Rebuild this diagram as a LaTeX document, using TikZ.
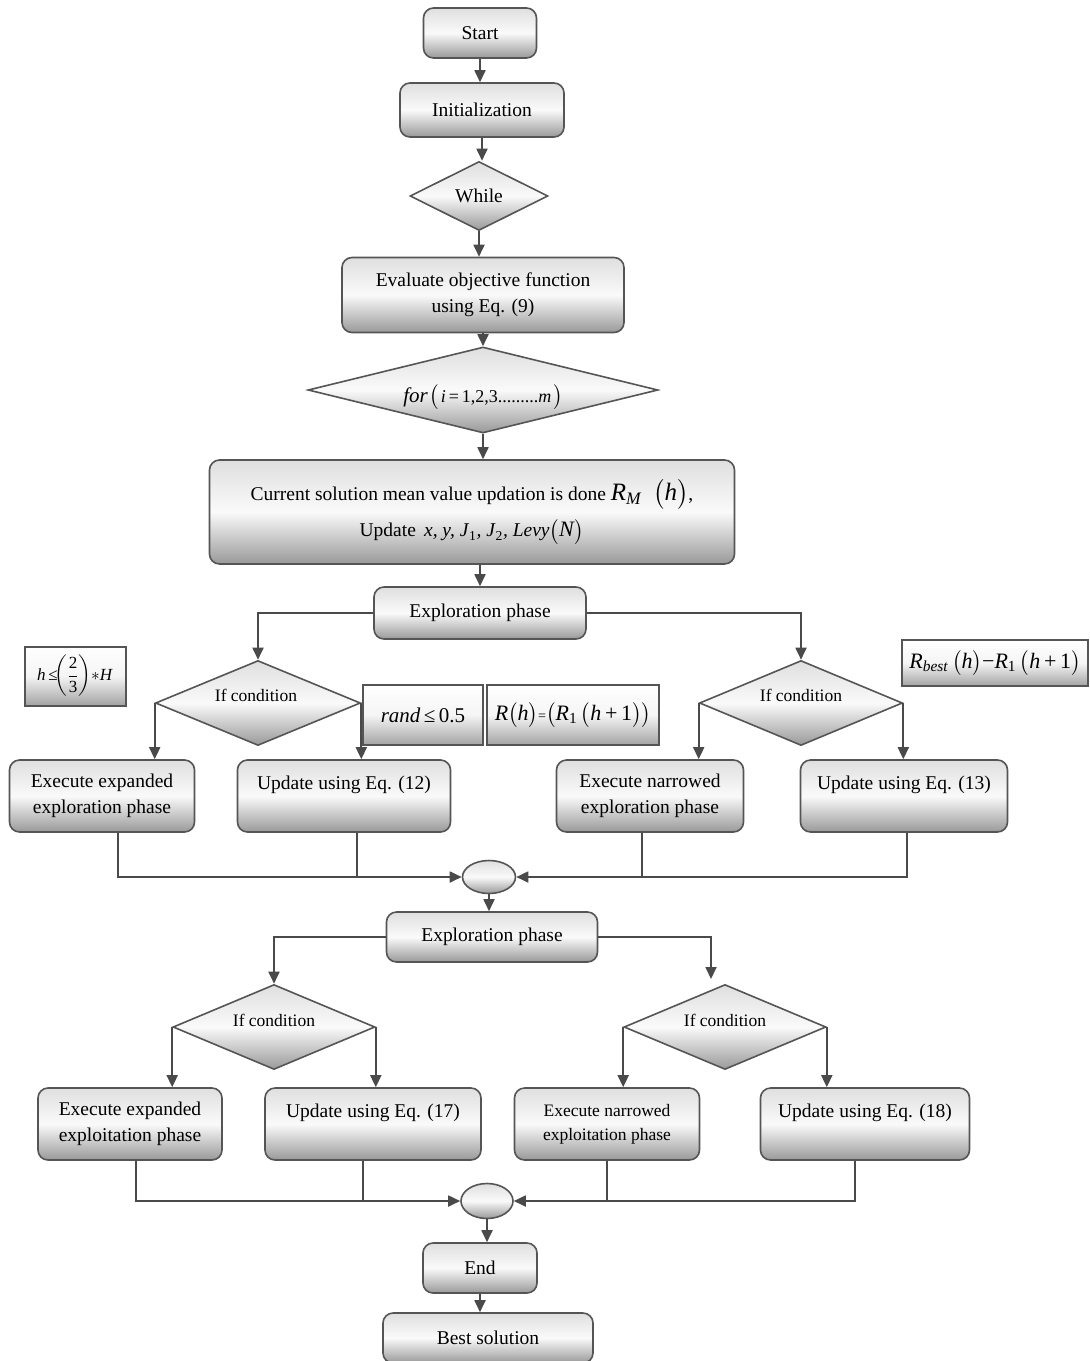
\documentclass[tikz,border=0pt]{standalone}
\usepackage{amsmath}
\usepackage{fontspec}
\setmainfont{Liberation Serif}
\usetikzlibrary{shapes.geometric,arrows.meta,calc}
\definecolor{bd}{HTML}{555555}
\definecolor{lnc}{HTML}{4A4A4A}
\tikzset{
 gshade/.style={top color=gray!25, bottom color=gray!80, middle color=gray!4},
 pbox/.style={draw=bd, line width=1.6pt, rounded corners=10pt, gshade, align=center, inner sep=2pt, font=\fontsize{19.5}{26}\selectfont},
 fbox/.style={draw=bd, line width=2pt, top color=white, bottom color=gray!72, middle color=gray!8, inner sep=2pt, align=center},
 dia/.style={diamond, draw=bd, line width=1.6pt, gshade, inner sep=0pt, aspect=2},
 merge/.style={ellipse, draw=bd, line width=1.6pt, gshade, inner sep=0pt},
 wh/.style n args={2}{minimum width=#1pt, minimum height=#2pt},
 conn/.style={draw=lnc, line width=1.8pt},
 arr/.style={conn, -{Triangle[length=12pt,width=11pt]}},
 dtext/.style={font=\fontsize{17.5}{19}\selectfont, inner sep=0pt},
}
\begin{document}
\begin{tikzpicture}[x=1pt,y=-1pt]
\useasboundingbox (0,0) rectangle (1090,1361);
\clip (0,0) rectangle (1090,1361);
% main column
\node[pbox, wh={113}{50}] (start) at (480,33) {Start};
\node[pbox, wh={164}{54}] (init) at (482,110) {Initialization};
\node[dia, wh={138}{69}, font=\fontsize{19.5}{21}\selectfont] (while) at (479,196) {While};
\node[pbox, wh={282}{75}] (eval) at (483,295) {Evaluate objective function\\using Eq. (9)};
\node[dia, wh={350}{86}] (for) at (483,390) {};
\node[inner sep=0pt] (fort) at (483,397) {{\fontsize{21}{22}\selectfont\textit{for}}\,{\fontsize{22}{22}\selectfont$\bigl($}\,{\fontsize{18}{18}\selectfont\textit{i}\,=\,1,2,3.........\textit{m}}\,{\fontsize{22}{22}\selectfont$\bigr)$}};
\node[pbox, wh={525}{104}, font=\fontsize{19.5}{36}\selectfont] (cur) at (472,512) {Current solution mean value updation is done\ {\fontsize{25}{25}\selectfont\textit{R}\textsubscript{\textit{M}}\;\,$\bigl($\textit{h}$\bigr)$},\\Update \,\textit{x, y, J}\textsubscript{1}\textit{, J}\textsubscript{2}\textit{, Levy}{\fontsize{22}{22}\selectfont$\bigl($\textit{N}$\bigr)$}};
\node[pbox, wh={212}{52}] (ex1) at (480,613) {Exploration phase};
% first decision level
\node[fbox, wh={101}{59}] (hb) at (75,676) {\fontsize{17}{18}\selectfont\textit{h}\,≤$\!\left(\dfrac{\text{2}}{\text{3}}\right)\!\ast$\textit{H}};
\node[dia, wh={205}{85}] (ifL) at (258,703) {};
\node[dtext] (ifLt) at (256,695) {If condition};
\node[fbox, wh={120}{60}] (rnd) at (423,715) {\fontsize{21}{22}\selectfont\textit{rand}\,≤\,0.5};
\node[fbox, wh={172}{60}] (rh) at (573,715) {\fontsize{22}{22}\selectfont\textit{R}$\bigl($\textit{h}$\bigr)${\fontsize{14}{14}\selectfont=}$\bigl($\textit{R}\textsubscript{1}\,$\bigl($\textit{h}\,+\,1$\bigr)\bigr)$};
\node[dia, wh={203}{85}] (ifR) at (801,703) {};
\node[dtext] (ifRt) at (801,695) {If condition};
\node[fbox, wh={186}{46}] (rb) at (995,663) {\fontsize{22}{24}\selectfont\textit{R}\textsubscript{\textit{best}}\,$\bigl($\textit{h}$\bigr)$−\textit{R}\textsubscript{1}\,$\bigl($\textit{h}\,+\,1$\bigr)$};
\node[pbox, wh={185}{72}] (e1) at (102,796) {Execute expanded\\exploration phase};
\node[pbox, wh={213}{72}] (u12) at (344,796) {Update using Eq. (12)\\\mbox{}};
\node[pbox, wh={187}{72}] (e2) at (650,796) {Execute narrowed\\exploration phase};
\node[pbox, wh={207}{72}] (u13) at (904,796) {Update using Eq. (13)\\\mbox{}};
\node[merge, wh={53}{33}] (m1) at (489,877) {};
% second phase
\node[pbox, wh={211}{50}] (ex2) at (492,937) {Exploration phase};
\node[dia, wh={202}{85}] (ifL2) at (274,1027) {};
\node[dtext] (ifL2t) at (274,1020) {If condition};
\node[dia, wh={202}{85}] (ifR2) at (725,1027) {};
\node[dtext] (ifR2t) at (725,1020) {If condition};
\coordinate (t2) at (711,979);
\node[pbox, wh={184}{72}] (e3) at (130,1124) {Execute expanded\\exploitation phase};
\node[pbox, wh={216}{72}] (u17) at (373,1124) {Update using Eq. (17)\\\mbox{}};
\node[pbox, wh={185}{72}, font=\fontsize{17.5}{24}\selectfont] (e4) at (607,1124) {Execute narrowed\\exploitation phase};
\node[pbox, wh={209}{72}] (u18) at (865,1124) {Update using Eq. (18)\\\mbox{}};
\node[merge, wh={52}{35}] (m2) at (487,1201) {};
\node[pbox, wh={114}{50}] (end) at (480,1268) {End};
\node[pbox, wh={210}{50}] (best) at (488,1338) {Best solution};
% connectors
\draw[arr] (start.south) -- (start.south |- init.north);
\draw[arr] (init.south) -- (init.south |- while.north);
\draw[arr] (while.south) -- (while.south |- eval.north);
\draw[arr] (eval.south) -- (eval.south |- for.north);
\draw[arr] (for.south) -- (for.south |- cur.north);
\draw[arr] (ex1.north |- cur.south) -- (ex1.north);
\draw[arr] (ex1.west) -| (ifL.north);
\draw[arr] (ex1.east) -| (ifR.north);
\draw[arr] (ifL.west) -- (ifL.west |- e1.north);
\draw[arr] (ifL.east) -- (ifL.east |- u12.north);
\draw[arr] (ifR.west) -- (ifR.west |- e2.north);
\draw[arr] (ifR.east) -- (ifR.east |- u13.north);
\draw[arr] (118,0 |- e1.south) |- (m1.west);
\draw[conn] (357,0 |- u12.south) -- (357,0 |- m1.west);
\draw[conn] (642,0 |- e2.south) -- (642,0 |- m1.east);
\draw[arr] (907,0 |- u13.south) |- (m1.east);
\draw[arr] (m1.south) -- (m1.south |- ex2.north);
\draw[arr] (ex2.west) -| (ifL2.north);
\draw[arr] (ex2.east) -| (t2);
\draw[arr] (ifL2.west) -- (ifL2.west |- e3.north);
\draw[arr] (ifL2.east) -- (ifL2.east |- u17.north);
\draw[arr] (ifR2.west) -- (ifR2.west |- e4.north);
\draw[arr] (ifR2.east) -- (ifR2.east |- u18.north);
\draw[arr] (136,0 |- e3.south) |- (m2.west);
\draw[conn] (363,0 |- u17.south) -- (363,0 |- m2.west);
\draw[conn] (607,0 |- e4.south) -- (607,0 |- m2.east);
\draw[arr] (855,0 |- u18.south) |- (m2.east);
\draw[arr] (m2.south) -- (m2.south |- end.north);
\draw[arr] (end.south) -- (end.south |- best.north);
\end{tikzpicture}
\end{document}
